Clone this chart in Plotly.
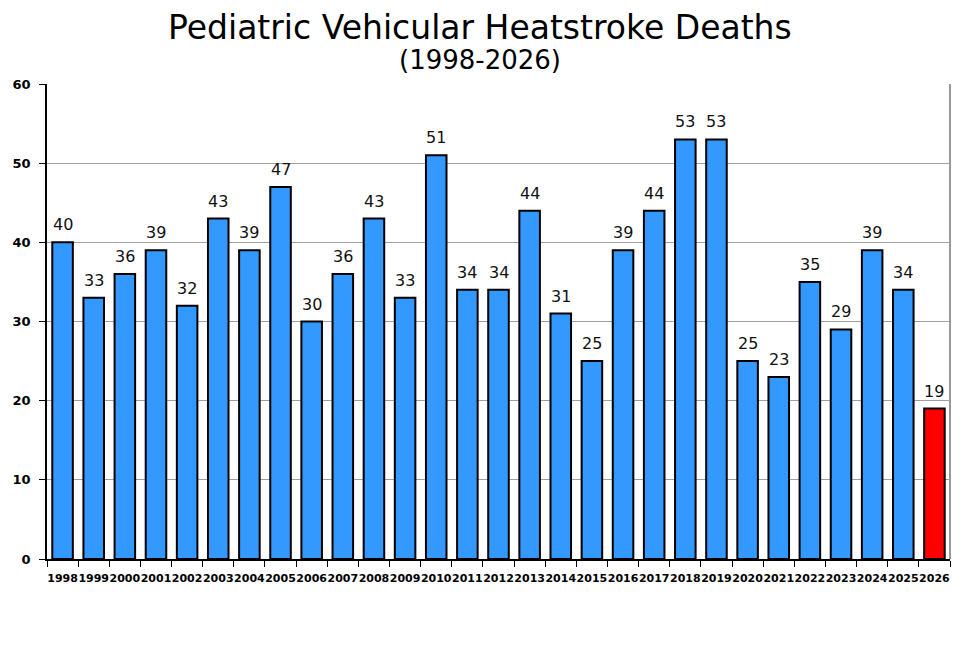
import plotly.graph_objects as go

years = [str(y) for y in range(1998, 2027)]
deaths = [40, 33, 36, 39, 32, 43, 39, 47, 30, 36, 43, 33, 51, 34, 34,
          44, 31, 25, 39, 44, 53, 53, 25, 23, 35, 29, 39, 34, 19]
colors = ["#3399FF"] * (len(years) - 1) + ["#FF0000"]

fig = go.Figure()
fig.add_trace(go.Bar(
    x=years, y=deaths,
    marker=dict(color=colors, line=dict(color="black", width=2)),
    width=0.66,
))

# value labels above the bars, with some space like the original
# (x given as category index so numeric-looking year strings are not misread)
for i, val in enumerate(deaths):
    fig.add_annotation(x=i, y=val, text=str(val), showarrow=False,
                       yanchor="bottom", yshift=6,
                       font=dict(family="DejaVu Sans", size=16, color="#111"))

fig.update_layout(
    width=980, height=647,
    paper_bgcolor="white", plot_bgcolor="white",
    margin=dict(l=39, r=38, t=76, b=96),
    showlegend=False,
)
# title and subtitle (centred on the page, not the plot area)
fig.add_annotation(text="Pediatric Vehicular Heatstroke Deaths", xref="paper", yref="paper",
                   x=0.5, y=1, xshift=-19, yanchor="middle", yshift=57, showarrow=False,
                   font=dict(family="DejaVu Sans", size=33, color="black"))
fig.add_annotation(text="(1998-2026)", xref="paper", yref="paper",
                   x=0.5, y=1, xshift=-19, yanchor="middle", yshift=24, showarrow=False,
                   font=dict(family="DejaVu Sans", size=26, color="black"))

fig.update_xaxes(
    type="category", tickson="boundaries", automargin=False,
    range=[-0.5, len(years) - 0.5],
    ticks="outside", ticklen=6, tickcolor="black",
    showline=True, linecolor="black", linewidth=1.5,
    ticklabelstandoff=8,
    tickfont=dict(family="DejaVu Sans", size=11, color="black", weight="bold"),
    tickangle=0,
)
fig.update_yaxes(
    range=[0, 60], dtick=10, automargin=False,
    ticks="outside", ticklen=6, tickcolor="black",
    showline=True, linecolor="black", linewidth=1.5,
    showgrid=True, gridcolor="#A0A0A0", gridwidth=1,
    zeroline=False, ticklabelstandoff=6,
    tickfont=dict(family="DejaVu Sans", size=13, color="black", weight="bold"),
)
fig.add_shape(type="line", xref="paper", yref="paper", x0=1, x1=1, y0=0, y1=1,
              line=dict(color="#999", width=2))

fig.write_html("out.html")
